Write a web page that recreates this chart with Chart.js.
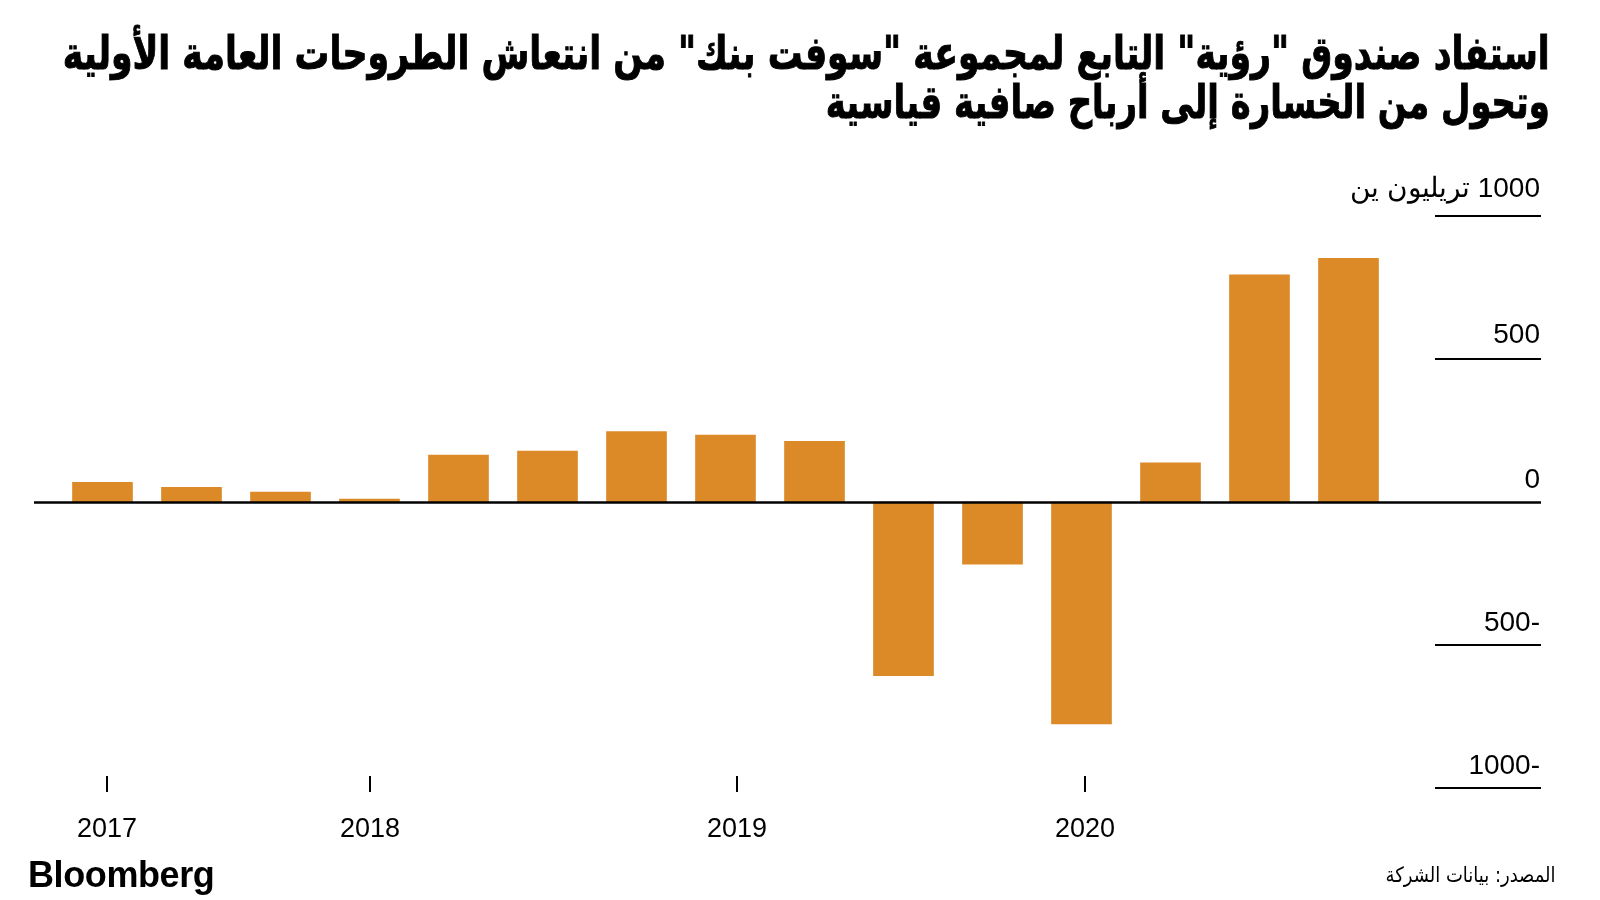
<!DOCTYPE html>
<html lang="ar">
<head>
<meta charset="utf-8">
<script src="https://cdn.jsdelivr.net/npm/chart.js@4"></script>
<style>
html,body{margin:0;padding:0;background:#fff;width:1600px;height:900px;overflow:hidden;}
#wrap{position:relative;width:1600px;height:900px;}
#chart{position:absolute;left:0;top:0;}
.title{position:absolute;right:50px;direction:rtl;font-family:"DejaVu Sans",sans-serif;font-weight:bold;font-size:46px;line-height:46px;white-space:nowrap;transform-origin:right center;color:#000;-webkit-text-stroke:1px #000;}
#t1{top:30px;}
#t2{top:79px;}
#logo{position:absolute;left:28px;top:857px;font-family:"Liberation Sans",Arial,sans-serif;font-weight:bold;font-size:36px;line-height:36px;letter-spacing:-0.4px;color:#000;}
#src{position:absolute;right:44px;top:865px;direction:rtl;font-family:"DejaVu Sans",sans-serif;font-size:21px;line-height:21px;white-space:nowrap;transform-origin:right center;color:#000;}
</style>
</head>
<body>
<div id="wrap">
<canvas id="chart" width="1600" height="900"></canvas>
<div class="title" id="t1">استفاد صندوق "رؤية" التابع لمجموعة "سوفت بنك" من انتعاش الطروحات العامة الأولية</div>
<div class="title" id="t2">وتحول من الخسارة إلى أرباح صافية قياسية</div>
<div id="logo">Bloomberg</div>
<div id="src">المصدر: بيانات الشركة</div>
</div>
<script>
// ---- data ----
const categories = ['Q1 FY2017','Q2 FY2017','Q3 FY2017','Q4 FY2017',
  'Q1 FY2018','Q2 FY2018','Q3 FY2018','Q4 FY2018',
  'Q1 FY2019','Q2 FY2019','Q3 FY2019','Q4 FY2019',
  'Q1 FY2020','Q2 FY2020','Q3 FY2020'];
const profit = [69, 51, 35, 10, 164, 178, 246, 234, 212, -607, -217, -776, 137, 794, 852];
const yTickValues = [1000, 500, 0, -500, -1000];
const yTickLabels = ['1000 تريليون ين', '500', '0', '-500', '-1000'];
const yearLabels = ['2017', '2018', '2019', '2020'];
const yearTickIndex = [0.05, 3.0, 7.13, 11.04];

// ---- fit condensed title widths ----
function fit(id, target){
  const el = document.getElementById(id);
  const w = el.getBoundingClientRect().width;
  const s = target / w;
  el.style.transform = 'scaleX(' + s + ')';
  return s;
}
fit('t1', 1487);
fit('t2', 724);
fit('src', 170);

const BAR = '#DB8A27';
const labelLift = [19, 16, 14, 14, 14];

const axisDeco = {
  id: 'axisDeco',
  afterDatasetsDraw(chart){
    const {ctx, chartArea, scales:{x, y}} = chart;
    ctx.save();
    ctx.fillStyle = '#000';
    ctx.strokeStyle = '#000';
    yTickValues.forEach((v, i) => {
      const py = Math.round(y.getPixelForValue(v));
      ctx.beginPath();
      if (v === 0){
        ctx.lineWidth = 2.6;
        ctx.moveTo(chartArea.left - 24, py + 0.5);
        ctx.lineTo(chartArea.right + 148, py + 0.5);
      } else {
        ctx.lineWidth = 2;
        ctx.moveTo(chartArea.right + 42, py);
        ctx.lineTo(chartArea.right + 148, py);
      }
      ctx.stroke();
      ctx.font = '28px "Liberation Sans", Arial, sans-serif';
      ctx.direction = 'rtl';
      ctx.textAlign = 'right';
      ctx.textBaseline = 'alphabetic';
      ctx.fillText(yTickLabels[i], chartArea.right + 147, py - labelLift[i]);
    });
    const yBottom = y.getPixelForValue(-1000);
    ctx.direction = 'ltr';
    ctx.textAlign = 'center';
    ctx.lineWidth = 2;
    yearLabels.forEach((lab, i) => {
      const px = Math.round(x.getPixelForValue(yearTickIndex[i]));
      ctx.beginPath();
      ctx.moveTo(px, yBottom - 12);
      ctx.lineTo(px, yBottom + 4);
      ctx.stroke();
      ctx.font = '27px "Liberation Sans", Arial, sans-serif';
      ctx.fillText(lab, px, yBottom + 49);
    });
    ctx.restore();
  }
};

new Chart(document.getElementById('chart'), {
  type: 'bar',
  data: {
    labels: categories,
    datasets: [{
      data: profit,
      backgroundColor: BAR,
      borderWidth: 0,
      barThickness: 60
    }]
  },
  options: {
    responsive: false,
    animation: false,
    layout: {padding: {left: 58, right: 207, top: 216, bottom: 112}},
    plugins: {legend: {display: false}, tooltip: {enabled: false}},
    scales: {
      x: {type: 'category', display: false, offset: true},
      y: {display: false, min: -1000, max: 1000}
    }
  },
  plugins: [axisDeco]
});
</script>
</body>
</html>
